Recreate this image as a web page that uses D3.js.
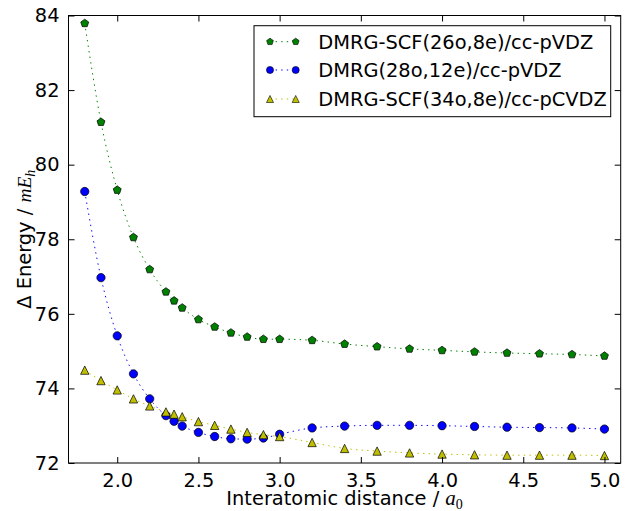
<!DOCTYPE html>
<html><head><meta charset="utf-8">
<script src="https://cdn.jsdelivr.net/npm/d3@7"></script>
<style>
html,body{margin:0;padding:0;background:#fff;}
svg text{font-family:"DejaVu Sans",sans-serif;}
</style></head>
<body>
<svg id="chart" width="636" height="511"></svg>
<script>
const distances = [1.8,1.9,2.0,2.1,2.2,2.3,2.35,2.4,2.5,2.6,2.7,2.8,2.9,3.0,3.2,3.4,3.6,3.8,4.0,4.2,4.4,4.6,4.8,5.0];
const scf26 = [83.79,81.14,79.32,78.05,77.19,76.59,76.35,76.16,75.85,75.65,75.49,75.38,75.32,75.32,75.29,75.19,75.12,75.06,75.02,74.98,74.95,74.93,74.91,74.87];
const dmrg28 = [79.28,76.97,75.41,74.39,73.72,73.27,73.12,72.99,72.82,72.71,72.65,72.64,72.67,72.77,72.94,72.99,73.01,73.01,73.00,72.98,72.96,72.95,72.94,72.91];
const scf34 = [74.49,74.21,73.96,73.72,73.53,73.37,73.31,73.24,73.11,73.01,72.91,72.82,72.76,72.71,72.55,72.39,72.32,72.27,72.24,72.22,72.21,72.21,72.21,72.20];
const seriesNames = ["DMRG-SCF(26o,8e)/cc-pVDZ","DMRG(28o,12e)/cc-pVDZ","DMRG-SCF(34o,8e)/cc-pCVDZ"];
const seriesColors = ["#008000","#0000ff","#bfbf00"];
const seriesMarkers = ["pentagon","circle","triangle"];
const xTicks = [2.0,2.5,3.0,3.5,4.0,4.5,5.0];
const yTicks = [72,74,76,78,80,82,84];

const FS = 19.4;
const series = [scf26, dmrg28, scf34].map((vals,i)=>({
  name: seriesNames[i], color: seriesColors[i], marker: seriesMarkers[i],
  pts: vals.map((v,j)=>({x:distances[j], y:v}))
}));

const L=68.5, R=620.7, T=15.5, B=463;
const svg = d3.select("#chart");
const x = d3.scaleLinear().domain([1.7,5.1]).range([L,R]);
const y = d3.scaleLinear().domain([72,84]).range([B,T]);

const MS = 4.17;
function markerPath(type){
  if(type==="circle"){
    return d3.symbol(d3.symbolCircle, Math.PI*MS*MS)();
  }
  if(type==="triangle"){
    return `M0,${-MS}L${-MS},${MS}L${MS},${MS}Z`;
  }
  const pts=[];
  for(let k=0;k<5;k++){
    const a = -Math.PI/2 + k*2*Math.PI/5;
    pts.push([MS*Math.cos(a), MS*Math.sin(a)]);
  }
  return "M"+pts.map(p=>p[0].toFixed(2)+","+p[1].toFixed(2)).join("L")+"Z";
}

svg.append("clipPath").attr("id","clip").append("rect")
  .attr("x",L).attr("y",T).attr("width",R-L).attr("height",B-T);

const line = d3.line().x(d=>x(d.x)).y(d=>y(d.y)).curve(d3.curveMonotoneX);
const plot = svg.append("g");
series.forEach(s=>{
  plot.append("path").attr("d",line(s.pts)).attr("fill","none")
    .attr("stroke",s.color).attr("stroke-width",1).attr("stroke-dasharray","1.4,4.2")
    .attr("clip-path","url(#clip)");
});
series.forEach(s=>{
  plot.selectAll(null).data(s.pts).enter().append("path")
    .attr("d",markerPath(s.marker))
    .attr("transform",d=>`translate(${x(d.x)},${y(d.y)})`)
    .attr("fill",s.color).attr("stroke","#000").attr("stroke-width",0.7);
});

svg.append("rect").attr("x",L).attr("y",T).attr("width",R-L).attr("height",B-T)
  .attr("fill","none").attr("stroke","#000").attr("stroke-width",1);

const tl = 6;
const xb = svg.append("g").attr("transform",`translate(0,${B})`)
  .call(d3.axisBottom(x).tickValues(xTicks).tickFormat(d3.format(".1f")).tickSizeInner(-tl).tickSizeOuter(0).tickPadding(10));
const xt = svg.append("g").attr("transform",`translate(0,${T})`)
  .call(d3.axisTop(x).tickValues(xTicks).tickFormat("").tickSizeInner(-tl).tickSizeOuter(0));
const yl = svg.append("g").attr("transform",`translate(${L},0)`)
  .call(d3.axisLeft(y).tickValues(yTicks).tickFormat(d3.format("d")).tickSizeInner(-tl).tickSizeOuter(0).tickPadding(9));
const yr = svg.append("g").attr("transform",`translate(${R},0)`)
  .call(d3.axisRight(y).tickValues(yTicks).tickFormat("").tickSizeInner(-tl).tickSizeOuter(0));
[xb,xt,yl,yr].forEach(g=>{
  g.select(".domain").remove();
  g.selectAll(".tick line").attr("stroke","#000").attr("stroke-width",1);
  g.selectAll("text").attr("font-family","DejaVu Sans").attr("font-size",FS).attr("fill","#000");
});

const xlab = svg.append("text").attr("x",(L+R)/2).attr("y",505).attr("text-anchor","middle")
  .attr("font-size",FS).attr("fill","#000");
xlab.append("tspan").text("Interatomic distance / ");
xlab.append("tspan").attr("font-family","Liberation Serif").attr("font-style","italic").attr("font-size",21).text("a");
xlab.append("tspan").attr("font-family","Liberation Serif").attr("font-size",14).attr("dy",4).text("0");

const ylab = svg.append("text").attr("transform",`translate(31,${(T+B)/2}) rotate(-90)`)
  .attr("text-anchor","middle").attr("font-size",FS).attr("fill","#000");
ylab.append("tspan").attr("font-family","DejaVu Sans").text("\u0394 Energy / ");
ylab.append("tspan").attr("font-family","Liberation Serif").attr("font-style","italic").attr("font-size",19.4).text("mE");
ylab.append("tspan").attr("font-family","Liberation Serif").attr("font-style","italic").attr("font-size",14).attr("dy",4).text("h");

const lg = svg.append("g");
lg.append("rect").attr("x",254).attr("y",25.7).attr("width",356.7).attr("height",91)
  .attr("fill","#fff").attr("stroke","#000").attr("stroke-width",1);
const rowY = [41.7,70,99];
series.forEach((s,i)=>{
  const yy = rowY[i];
  lg.append("line").attr("x1",270).attr("x2",295.7).attr("y1",yy).attr("y2",yy)
    .attr("stroke",s.color).attr("stroke-width",1).attr("stroke-dasharray","1.4,4.2");
  [270,295.7].forEach(xx=>{
    lg.append("path").attr("d",markerPath(s.marker)).attr("transform",`translate(${xx},${yy}) scale(0.85)`)
      .attr("fill",s.color).attr("stroke","#000").attr("stroke-width",0.7);
  });
  lg.append("text").attr("x",318.3).attr("y",yy).attr("dy","0.36em")
    .attr("font-size",FS).attr("fill","#000").text(s.name);
});
</script>
</body></html>
